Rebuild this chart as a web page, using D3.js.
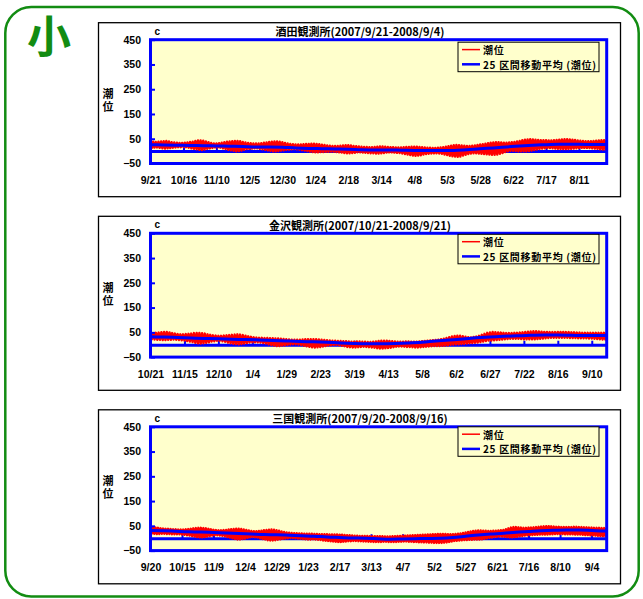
<!DOCTYPE html>
<html>
<head>
<meta charset="utf-8">
<script src="https://cdn.jsdelivr.net/npm/d3@7"></script>
<style>
  body { margin: 0; background: #fff; }
  svg { display: block; }
</style>
</head>
<body>
<svg id="chart" width="643" height="599"></svg>
<script>
// ---- data -------------------------------------------------------------
const stationTitles = [
  "酒田観測所(2007/9/21-2008/9/4)",
  "金沢観測所(2007/10/21-2008/9/21)",
  "三国観測所(2007/9/20-2008/9/16)"
];
const startDates = ["2007-09-21", "2007-10-21", "2007-09-20"];
const spanDays = [346, 336, 362];

const tickLabels1 = ["9/21","10/16","11/10","12/5","12/30","1/24","2/18","3/14","4/8","5/3","5/28","6/22","7/17","8/11"];
const tickLabels2 = ["10/21","11/15","12/10","1/4","1/29","2/23","3/19","4/13","5/8","6/2","6/27","7/22","8/16","9/10"];
const tickLabels3 = ["9/20","10/15","11/9","12/4","12/29","1/23","2/17","3/13","4/7","5/2","5/27","6/21","7/16","8/10","9/4"];
const tickStepDays = 25;

const yTickValues = [450, 350, 250, 150, 50, -50];
const legendLabels = ["潮位", "25 区間移動平均 (潮位)"];

// tide level (cm), one reading per day, alternating high / low water
const tideStepDays = 1;
const tide1 = [
  40,13,38,14,37,15,38,13,39,11,40,10,41,11,39,12,36,14,35,15,
  34,16,33,16,33,17,34,16,35,14,37,11,38,9,41,7,43,5,43,4,
  42,6,39,9,36,11,33,13,31,15,31,15,32,14,34,11,36,8,38,5,
  39,3,40,1,41,-1,41,0,40,2,37,5,35,8,33,9,32,10,31,11,
  31,11,31,9,32,7,34,5,35,3,37,1,38,-1,39,-1,39,0,38,2,
  36,3,33,5,31,6,29,7,28,8,27,7,27,6,27,4,28,2,29,0,
  29,-2,30,-4,30,-5,29,-5,28,-4,26,-4,25,-3,23,-3,22,-2,21,-3,
  21,-4,21,-5,22,-6,23,-8,24,-9,24,-9,23,-8,21,-7,20,-5,19,-5,
  18,-6,17,-7,17,-8,16,-9,16,-9,17,-10,18,-10,19,-9,19,-8,18,-6,
  17,-5,16,-5,16,-6,15,-7,15,-8,15,-10,16,-12,17,-14,17,-16,18,-18,
  18,-19,18,-18,17,-17,16,-14,15,-12,14,-11,14,-10,13,-9,13,-9,14,-10,
  15,-11,16,-14,18,-16,20,-19,22,-21,24,-22,25,-23,24,-22,23,-18,22,-15,
  21,-12,21,-10,22,-9,23,-9,25,-10,27,-11,28,-12,30,-13,32,-14,34,-15,
  35,-15,36,-14,36,-11,35,-8,34,-4,34,-1,35,1,36,1,37,0,39,-1,
  41,-1,44,-1,46,-1,47,0,48,2,47,4,46,6,45,8,44,10,44,11,
  44,12,43,12,43,11,44,10,45,9,46,8,47,8,48,8,48,8,47,9,
  46,10,45,11,43,12,42,13,41,13,40,13,40,12,40,11,41,10,42,9,
  43,7,44,6,44,5,44
];
const tide2 = [
  45,22,46,21,48,20,49,20,51,19,52,19,52,20,50,20,47,21,45,20,
  43,19,42,18,42,17,43,15,44,13,45,11,47,8,48,6,48,5,47,6,
  45,8,42,10,40,13,38,14,37,16,36,16,36,14,37,12,38,9,39,6,
  40,4,41,3,42,2,41,3,39,5,36,7,34,9,32,10,30,10,29,10,
  28,9,28,7,27,5,27,2,26,-1,26,-3,25,-5,25,-5,24,-3,23,-2,
  22,0,21,1,20,2,20,2,20,1,20,-1,21,-4,22,-6,22,-8,22,-10,
  22,-11,22,-10,21,-9,20,-7,19,-5,18,-3,17,-2,16,-1,16,-1,15,-2,
  15,-4,14,-6,14,-9,13,-10,12,-11,12,-11,13,-10,13,-9,12,-8,12,-9,
  11,-10,11,-11,12,-12,13,-14,15,-15,16,-15,16,-14,16,-13,15,-12,14,-10,
  13,-8,12,-7,12,-7,12,-8,13,-9,13,-9,12,-10,12,-11,12,-11,13,-10,
  14,-9,15,-8,16,-7,17,-6,18,-5,19,-5,20,-5,22,-4,24,-3,27,-2,
  30,0,33,1,35,2,36,2,36,3,34,4,32,5,30,6,29,7,31,8,
  33,9,36,11,40,13,44,15,48,17,50,17,52,18,51,19,50,20,49,21,
  48,22,47,23,47,24,47,24,48,24,48,24,49,23,50,22,52,22,53,22,
  54,22,55,22,55,23,54,24,53,25,52,26,52,27,51,28,51,28,51,28,
  52,28,52,28,52,28,51,28,51,27,50,27,50,27,49,26,49,26,48,26,
  48,26,48,25,48,25,48,24,48,23,48,22,48,21,48,21,48
];
const tide3 = [
  45,19,44,18,43,17,42,17,40,18,39,18,38,17,38,17,37,16,36,16,
  36,16,35,16,35,15,35,14,36,12,37,11,38,9,40,7,41,5,42,4,
  42,4,41,5,40,7,38,9,36,11,34,12,33,12,32,11,32,10,33,8,
  33,5,35,3,36,0,37,-3,38,-5,38,-5,37,-3,35,-1,33,2,31,4,
  29,5,28,4,28,3,29,0,30,-3,32,-5,33,-8,34,-9,35,-9,34,-8,
  32,-6,30,-4,27,-2,25,-1,23,0,22,1,21,1,20,0,20,-1,19,-2,
  19,-3,18,-4,18,-5,18,-5,18,-4,17,-5,17,-6,16,-7,16,-9,16,-10,
  16,-11,15,-12,15,-13,15,-14,15,-15,14,-15,14,-14,13,-13,12,-12,12,-12,
  11,-11,10,-11,10,-12,9,-12,9,-13,9,-13,9,-14,8,-14,8,-15,8,-15,
  8,-15,8,-15,8,-14,7,-14,7,-15,7,-15,8,-15,8,-15,9,-14,9,-14,
  10,-13,10,-13,11,-14,11,-14,12,-15,12,-15,13,-16,13,-16,14,-17,14,-17,
  15,-18,15,-18,16,-19,16,-19,17,-19,17,-19,17,-18,17,-17,16,-15,16,-13,
  16,-11,17,-10,18,-9,19,-8,21,-7,23,-7,25,-6,27,-6,29,-5,30,-5,
  31,-5,31,-4,30,-2,30,0,29,2,29,3,30,5,30,6,31,7,32,7,
  33,6,36,5,40,4,43,4,45,5,45,6,44,8,43,9,42,11,42,12,
  43,13,43,13,44,14,45,14,46,15,47,15,48,15,49,15,49,16,48,16,
  47,17,46,17,46,17,45,17,45,16,45,16,45,16,45,16,46,15,46,15,
  45,15,45,14,44,13,44,13,43,12,43,12,42,11,42,10,42,9,41,9,
  41,8,41
];

// 25-interval moving average (cm), one value every 10 days
const avgStepDays = 10;
const avg1 = [26,25,24,23,22,21,20,19,17,17,16,13,11,10,9,8,6,5,5,4,3,3,3,3,6,10,13,17,21,24,26,28,28,27,27,27];
const avg2 = [32,31,29,27,25,24,22,21,19,17,15,13,12,10,7,5,4,4,5,7,10,15,19,23,28,31,34,36,38,39,39,38,37,37,37];
const avg3 = [31,30,28,26,25,23,21,19,17,15,14,12,10,8,5,3,1,0,-2,-4,-3,-2,-1,0,3,8,13,17,20,24,27,30,32,33,33,31,29,28];

// ---- layout ------------------------------------------------------------
const panels = [
  { title: stationTitles[0], start: startDates[0], span: spanDays[0], ticks: tickLabels1, tide: tide1, avg: avg1, top: 22.7, legendDy: 2.5 },
  { title: stationTitles[1], start: startDates[1], span: spanDays[1], ticks: tickLabels2, tide: tide2, avg: avg2, top: 216.3, legendDy: 1 },
  { title: stationTitles[2], start: startDates[2], span: spanDays[2], ticks: tickLabels3, tide: tide3, avg: avg3, top: 409.8, legendDy: 0 }
];

const plotLeft = 150.5, plotRight = 606.7, plotH = 123.8;
const frameLeft = 98.5, frameW = 522, frameH = 174;
const jpFont = "'Noto Sans CJK JP', sans-serif";
const latinFont = "'Liberation Sans', Arial, sans-serif";
const BLUE = "#0000FF", RED = "#FF0000", PLOT_BG = "#FFFFCC", GREEN = "#128c12";

const svg = d3.select("#chart");
const parse = d3.utcParse("%Y-%m-%d");

// outer rounded frame and the size mark
svg.append("rect")
  .attr("x", 5.3).attr("y", 7).attr("width", 633.4).attr("height", 589.5)
  .attr("rx", 26).attr("ry", 26)
  .attr("fill", "#fff").attr("stroke", GREEN).attr("stroke-width", 2.5);

svg.append("text")
  .attr("x", 49).attr("y", 34)
  .attr("text-anchor", "middle").attr("dominant-baseline", "central")
  .attr("font-family", jpFont).attr("font-weight", 700).attr("font-size", 44)
  .attr("fill", GREEN).text("小");

panels.forEach((p, k) => {
  const g = svg.append("g");
  const top = p.top;
  const y0 = top + 17, y1 = y0 + plotH;
  const start = parse(p.start);
  const dayAt = n => d3.utcDay.offset(start, n);

  const x = d3.scaleUtc().domain([start, dayAt(p.span)]).range([plotLeft, plotRight]);
  const y = d3.scaleLinear().domain([-50, 450]).range([y1, y0]);

  // chart frame
  g.append("rect")
    .attr("x", frameLeft).attr("y", top).attr("width", frameW).attr("height", frameH)
    .attr("fill", "#fff").attr("stroke", "#000").attr("stroke-width", 1.3);

  // plot area background
  g.append("rect")
    .attr("x", plotLeft).attr("y", y0).attr("width", plotRight - plotLeft).attr("height", plotH)
    .attr("fill", PLOT_BG);

  const clipId = "clip" + k;
  g.append("clipPath").attr("id", clipId).append("rect")
    .attr("x", plotLeft).attr("y", y0).attr("width", plotRight - plotLeft).attr("height", plotH);

  const tickDates = p.ticks.map((_, i) => dayAt(i * tickStepDays));

  // category axis crossing at 0 cm
  const zeroAxis = g.append("g")
    .attr("transform", `translate(0,${y(0)})`)
    .call(d3.axisTop(x).tickValues(tickDates).tickSize(4).tickSizeOuter(0).tickFormat(""));
  zeroAxis.select(".domain").attr("stroke", BLUE).attr("stroke-width", 3);
  zeroAxis.selectAll(".tick line").attr("stroke", BLUE).attr("stroke-width", 2);

  // date labels under the plot
  const xLab = g.append("g")
    .attr("transform", `translate(0,${y1})`)
    .call(d3.axisBottom(x).tickValues(tickDates).tickSize(0).tickPadding(13)
      .tickFormat((d, i) => p.ticks[i]));
  xLab.select(".domain").remove();
  xLab.selectAll("text")
    .attr("font-family", latinFont).attr("font-weight", 700).attr("font-size", 10.5).attr("fill", "#000");

  // tide level
  const series = g.append("g").attr("clip-path", `url(#${clipId})`);
  series.append("path")
    .datum(p.tide)
    .attr("fill", "none").attr("stroke", RED).attr("stroke-width", 2.4)
    .attr("stroke-linejoin", "round")
    .attr("d", d3.line().x((d, i) => x(dayAt(i * tideStepDays))).y(d => y(d)));

  // 25-interval moving average
  series.append("path")
    .datum(p.avg)
    .attr("fill", "none").attr("stroke", BLUE).attr("stroke-width", 3)
    .attr("stroke-linejoin", "round")
    .attr("d", d3.line().curve(d3.curveMonotoneX)
      .x((d, i) => x(dayAt(i * avgStepDays))).y(d => y(d)));

  // plot border
  g.append("rect")
    .attr("x", plotLeft).attr("y", y0).attr("width", plotRight - plotLeft).attr("height", plotH)
    .attr("fill", "none").attr("stroke", BLUE).attr("stroke-width", 3);

  // value axis ticks (inside) and labels
  const yTicks = g.append("g")
    .attr("transform", `translate(${plotLeft},0)`)
    .call(d3.axisRight(y).tickValues(yTickValues).tickSize(4.5).tickFormat(""));
  yTicks.select(".domain").remove();
  yTicks.selectAll(".tick line").attr("stroke", BLUE).attr("stroke-width", 2);

  const yLab = g.append("g")
    .attr("transform", `translate(${plotLeft},0)`)
    .call(d3.axisLeft(y).tickValues(yTickValues).tickSize(0).tickPadding(9.5));
  yLab.select(".domain").remove();
  yLab.selectAll("text")
    .attr("font-family", latinFont).attr("font-weight", 700).attr("font-size", 10.5).attr("fill", "#000");

  // axis title (vertical) and unit
  const mid = (y0 + y1) / 2;
  g.append("text")
    .attr("x", 108).attr("y", mid)
    .attr("text-anchor", "middle")
    .style("writing-mode", "vertical-rl")
    .attr("letter-spacing", 2)
    .attr("font-family", jpFont).attr("font-weight", 700).attr("font-size", 11).attr("fill", "#000")
    .text("潮位");

  g.append("text")
    .attr("x", 154.5).attr("y", top + 8.5).attr("dominant-baseline", "central")
    .attr("font-family", latinFont).attr("font-weight", 700).attr("font-size", 10).attr("fill", "#000")
    .text("c");

  // chart title
  g.append("text")
    .attr("x", 360).attr("y", top + 8.5)
    .attr("text-anchor", "middle").attr("dominant-baseline", "central")
    .attr("font-family", jpFont).attr("font-weight", 700).attr("font-size", 11).attr("fill", "#000")
    .text(p.title);

  // legend
  const lg = g.append("g").attr("transform", `translate(458,${y0 + p.legendDy})`);
  lg.append("rect")
    .attr("width", 141).attr("height", 29.5)
    .attr("fill", PLOT_BG).attr("stroke", "#000").attr("stroke-width", 1);
  const rows = [{ color: RED, w: 1.5 }, { color: BLUE, w: 2.5 }];
  rows.forEach((r, i) => {
    const cy = 7.4 + i * 14.7;
    lg.append("line")
      .attr("x1", 4).attr("x2", 22).attr("y1", cy).attr("y2", cy)
      .attr("stroke", r.color).attr("stroke-width", r.w);
    lg.append("text")
      .attr("x", 25).attr("y", cy).attr("dominant-baseline", "central")
      .attr("font-family", jpFont).attr("font-weight", 700).attr("font-size", 10)
      .attr("letter-spacing", 0.7).attr("fill", "#000")
      .text(legendLabels[i]);
  });
});
</script>
</body>
</html>
